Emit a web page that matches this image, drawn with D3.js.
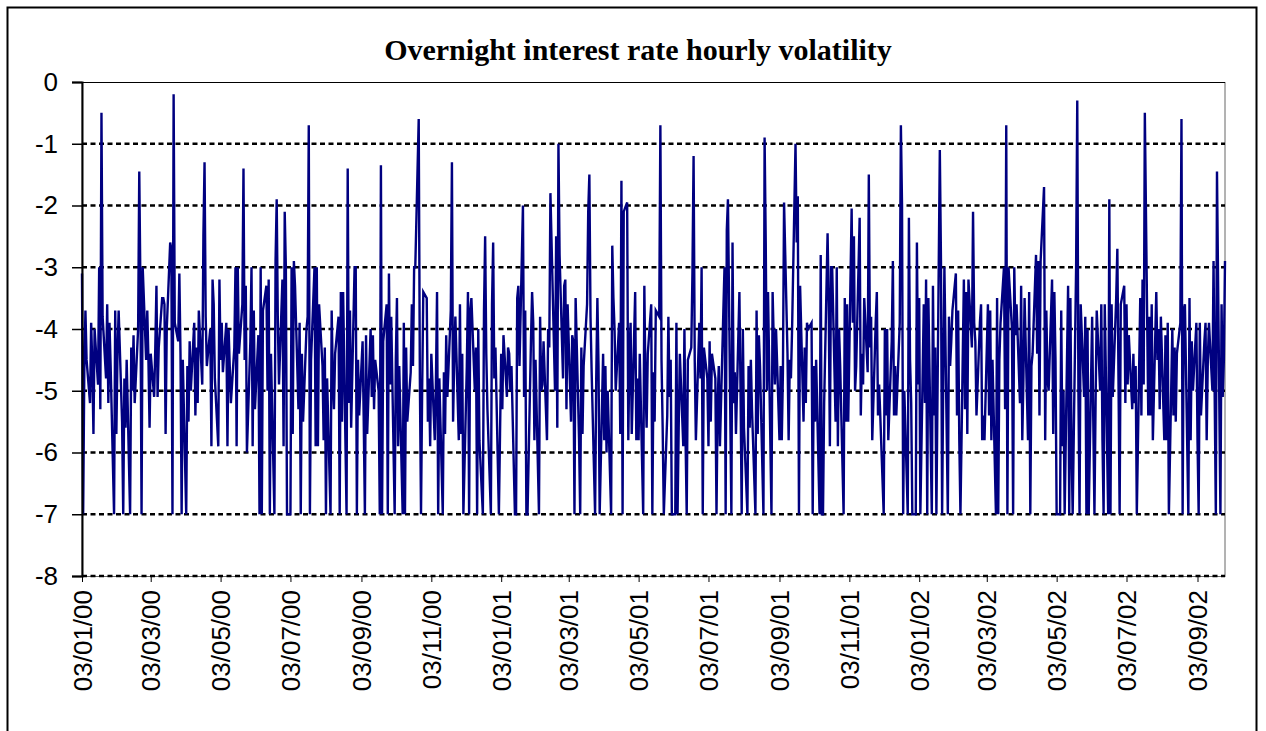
<!DOCTYPE html>
<html>
<head>
<meta charset="utf-8">
<script src="https://cdn.jsdelivr.net/npm/d3@7"></script>
<style>
  body { margin: 0; background: #fff; }
  svg { display: block; }
</style>
</head>
<body>
<svg id="chart" width="1266" height="731"></svg>
<script>
// daily log volatility, one array per 13-week block starting 03/01/00
const vol2000q1 = [-3.1,-7,-4.7,-3.7,-4.5,-5.2,-3.9,-4.6,-5.7,-4.0,-4.9,-3.0,-5.3,-0.5,-3.8,-4.8,-3.6,-5.2,-3.9,-4.6,-7,-3.7,-5.7,-4.4,-3.7,-5.5,-7,-4.8,-5.6,-4.5,-7,-4.3,-5.0,-4.1,-5.2,-4.0,-1.45,-3.3,-7,-3.0,-4.5,-3.7,-4.5,-5.6,-4.4,-5.1,-4.3,-3.3,-5.1,-4.3,-3.5,-3.5,-3.6,-5.7,-4.0,-2.6,-2.7,-7,-0.2,-3.9,-4.2,-3.1,-4.4,-7,-4.5];
const vol2000q2 = [-7,-4.6,-5.5,-4.2,-5.0,-3.9,-5.4,-4.3,-5.2,-3.7,-4.9,-2.5,-1.3,-3.8,-4.6,-4.0,-5.9,-3.2,-3.6,-4.8,-5.9,-3.2,-4.5,-3.9,-4.7,-3.9,-5.9,-4.0,-4.6,-5.2,-4.3,-3.0,-5.9,-3.0,-4.4,-3.6,-1.4,-4.5,-3.3,-6.0,-4.2,-3.0,-5.9,-3.7,-5.3,-4.1,-7,-3.0,-7,-3.7,-3.3,-5.0,-3.2,-7,-4.4,-7,-2.9,-1.9,-3.9,-4.9,-3.2,-5.9,-2.1,-3.0,-7];
const vol2000q3 = [-7,-3.0,-5.7,-2.9,-3.3,-5.3,-3.9,-7,-4.4,-5.5,-4.0,-3.8,-0.7,-7,-4.5,-3.0,-5.9,-3.0,-5.9,-3.6,-4.6,-5.8,-4.3,-7,-4.8,-7,-3.7,-4.8,-5.3,-4.4,-3.8,-7,-3.4,-5.5,-3.4,-7,-1.4,-5.2,-3.7,-5.6,-3.0,-3.0,-7,-4.5,-5.4,-4.2,-5.5,-7,-4.1,-5.7,-4.0,-5.1,-4.1,-5.3,-4.5,-5.0,-7,-1.35,-7,-4.2,-3.6,-7,-3.1,-4.9,-3.8];
const vol2000q4 = [-7,-4.5,-3.5,-5.9,-4.6,-7,-3.9,-7,-4.3,-5.5,-4.7,-3.6,-4.6,-3.0,-3.0,-0.6,-4.8,-7,-5.0,-3.4,-3.5,-5.5,-4.8,-5.9,-4.4,-5.8,-4.9,-3.4,-7,-4.8,-7,-4.7,-5.7,-4.1,-5.1,-3.7,-1.3,-5.5,-4.5,-3.8,-5.8,-3.6,-5.7,-4.4,-7,-4.6,-3.4,-7,-3.7,-3.5,-5.0,-4.3,-7,-4.0,-5.8,-7,-3.7,-2.5,-4.4,-5.3,-7,-3.6,-2.6,-4.8,-4.3];
const vol2001q1 = [-7,-5.7,-4.4,-5.3,-4.1,-5.1,-4.3,-4.4,-5.0,-4.6,-7,-7,-3.5,-3.3,-4.6,-2.0,-5.1,-3.7,-7,-7,-4.2,-3.4,-3.9,-5.8,-4.5,-7,-3.8,-5.0,-4.9,-4.2,-5.8,-4.0,-4.3,-1.8,-2.6,-5.0,-2.5,-5.6,-1.0,-2.8,-4.8,-3.3,-3.2,-5.3,-3.6,-5.5,-4.1,-4.2,-7,-3.5,-5.8,-7,-4.3,-5.7,-4.6,-3.6,-2.1,-1.5,-3.8,-4.7,-7,-4.8,-3.5,-4.6,-7];
const vol2001q2 = [-4.4,-5.8,-4.6,-6.0,-5.0,-7,-2.65,-3.5,-4.0,-5.0,-3.9,-5.7,-1.6,-7,-2.1,-1.95,-5.8,-4.4,-3.9,-5.7,-3.4,-5.8,-4.8,-5.8,-4.4,-7,-3.3,-4.9,-5.6,-4.4,-3.6,-7,-4.7,-5.5,-3.7,-3.8,-0.7,-4.5,-5.6,-7,-5.4,-3.8,-5.1,-4.5,-7,-7,-3.9,-7,-5.6,-4.4,-5.9,-4.0,-5.8,-7,-4.5,-4.3,-3.1,-1.2,-4.5,-5.8,-3.9,-4.8,-3.0,-7,-4.3];
const vol2001q3 = [-4.8,-5.9,-4.2,-5.5,-4.4,-4.8,-7,-5.2,-4.6,-5.9,-3.7,-3.0,-7,-2.4,-1.9,-7,-2.6,-5.2,-4.7,-5.7,-3.4,-5.0,-7,-4.0,-5.6,-7,-4.6,-5.6,-4.5,-5.3,-7,-3.7,-5.7,-4.1,-4.6,-7,-0.9,-2.6,-5.0,-3.4,-7,-3.4,-4.2,-4.9,-4.0,-5.8,-4.6,-5.8,-4.7,-1.95,-4.4,-5.8,-4.5,-4.8,-4.0,-1.0,-2.6,-1.85,-7,-3.3,-5.5,-4.3,-5.2,-3.9,-4.0];
const vol2001q4 = [-3.9,-7,-4.6,-5.5,-4.5,-7,-2.8,-7,-7,-5.2,-2.45,-3.6,-5.9,-3.0,-3.0,-5.5,-3.0,-5.9,-4.0,-4.6,-7,-3.5,-5.5,-3.6,-5.5,-2.05,-3.9,-2.5,-5.0,-4.6,-2.2,-5.4,-4.4,-4.9,-3.5,-4.7,-1.5,-4.3,-3.8,-5.8,-3.9,-3.4,-5.4,-4.9,-5.4,-7,-4.0,-5.4,-4.0,-5.8,-4.2,-2.9,-5.4,-4.6,-5.4,-3.9,-0.7,-2.0,-7,-5.0,-7,-2.2,-4.5,-5.2,-7];
const vol2002q1 = [-7,-2.6,-4.9,-3.5,-7,-3.6,-5.2,-3.2,-7,-3.5,-7,-3.3,-5.4,-4.3,-7,-1.1,-2.9,-7,-4.8,-3.0,-7,-3.8,-4.6,-4.2,-3.7,-3.1,-5.4,-3.7,-5.8,-7,-3.2,-5.3,-3.4,-5.7,-3.2,-4.3,-2.1,-3.9,-4.2,-5.4,-3.9,-3.6,-5.8,-5.4,-5.8,-3.6,-5.4,-3.7,-5.8,-4.5,-7,-3.5,-7,-4.5,-3.9,-3.0,-5.3,-0.7,-7,-3.0,-4.0,-7,-3.0,-4.1,-3.6];
const vol2002q2 = [-5.2,-3.3,-5.8,-4.8,-3.5,-5.8,-3.4,-7,-4.6,-4.4,-2.8,-4.4,-2.9,-5.4,-2.9,-1.7,-5.8,-3.7,-4.8,-5.0,-3.2,-5.7,-3.4,-4.5,-7,-7,-3.7,-5.9,-5.0,-7,-3.3,-7,-3.5,-5.9,-7,-3.0,-0.3,-5.0,-7,-3.6,-5.1,-3.8,-7,-4.0,-7,-3.8,-5.5,-7,-5.2,-3.7,-5.0,-3.6,-5.8,-7,-3.6,-7,-1.9,-7,-3.6,-5.1,-3.5,-2.7,-4.8,-7,-3.6];
const vol2002q3 = [-3.3,-5.2,-3.6,-4.9,-4.1,-5.3,-4.4,-5.2,-4.6,-7,-3.5,-5.4,-3.2,-4.9,-0.5,-5.4,-3.8,-5.4,-3.6,-5.8,-3.4,-4.5,-4.0,-5.3,-3.8,-5.8,-4.1,-5.8,-3.9,-7,-4.0,-5.4,-4.3,-5.5,-4.4,-3.9,-0.6,-7,-3.7,-3.6,-7,-3.5,-5.8,-4.2,-5.0,-3.9,-5.8,-7,-3.9,-5.4,-4.2,-3.9,-5.8,-4.5,-3.9,-5.0,-2.9,-5.1,-7,-1.45,-7,-3.6,-5.1,-4.5,-2.9];

const yTicks = [0, -1, -2, -3, -4, -5, -6, -7, -8];
const xTickLabels = ['03/01/00','03/03/00','03/05/00','03/07/00','03/09/00','03/11/00',
  '03/01/01','03/03/01','03/05/01','03/07/01','03/09/01','03/11/01',
  '03/01/02','03/03/02','03/05/02','03/07/02','03/09/02'];
const firstDay = '03/01/00';

const values = [].concat(vol2000q1, vol2000q2, vol2000q3, vol2000q4,
  vol2001q1, vol2001q2, vol2001q3, vol2001q4,
  vol2002q1, vol2002q2, vol2002q3);

const parse = d3.timeParse('%d/%m/%y');

// one value per business day
const data = [];
let day = parse(firstDay);
let i = 0;
while (i < values.length) {
  const wd = day.getDay();
  if (wd !== 0 && wd !== 6) {
    data.push({date: new Date(day), value: values[i]});
    i++;
  }
  day = d3.timeDay.offset(day, 1);
}

const svg = d3.select('#chart');
const plotLeft = 82, plotRight = 1225, plotTop = 82, plotBottom = 576;

// outer chart frame
svg.append('rect')
  .attr('x', 7.5).attr('y', 7.5)
  .attr('width', 1249).attr('height', 740)
  .attr('fill', '#fff')
  .attr('stroke', '#000')
  .attr('stroke-width', 2);

svg.append('text')
  .attr('x', 638).attr('y', 60)
  .attr('text-anchor', 'middle')
  .attr('font-family', '"Liberation Serif", "Times New Roman", serif')
  .attr('font-weight', 'bold')
  .attr('font-size', 30)
  .text('Overnight interest rate hourly volatility');

const x = d3.scaleTime()
  .domain(d3.extent(data, d => d.date))
  .range([plotLeft, plotRight]);

const y = d3.scaleLinear()
  .domain([-8, 0])
  .range([plotBottom, plotTop]);

// plot area border
svg.append('rect')
  .attr('x', plotLeft).attr('y', plotTop + 0.5)
  .attr('width', plotRight - plotLeft).attr('height', plotBottom - plotTop)
  .attr('fill', 'none')
  .attr('stroke', '#666')
  .attr('stroke-width', 1);

svg.append('line')
  .attr('x1', plotLeft).attr('x2', plotRight)
  .attr('y1', plotTop + 0.5).attr('y2', plotTop + 0.5)
  .attr('stroke', '#000');

// dotted gridlines
svg.append('g')
  .selectAll('line')
  .data(yTicks.filter(t => t !== 0))
  .enter()
  .append('line')
  .attr('x1', plotLeft).attr('x2', plotRight)
  .attr('y1', d => y(d)).attr('y2', d => y(d))
  .attr('stroke', '#000')
  .attr('stroke-width', 2.5)
  .attr('stroke-dasharray', '5,3.5');

const line = d3.line()
  .x(d => x(d.date))
  .y(d => y(d.value));

svg.append('path')
  .datum(data)
  .attr('d', line)
  .attr('fill', 'none')
  .attr('stroke', '#000080')
  .attr('stroke-width', 2.4)
  .attr('stroke-linejoin', 'miter');

const yAxis = svg.append('g')
  .attr('transform', `translate(${plotLeft}, 0)`)
  .call(d3.axisLeft(y).tickValues(yTicks).tickFormat(d => String(d)).tickSize(10).tickPadding(14));
yAxis.select('.domain').attr('stroke', '#000').attr('stroke-width', 2);
yAxis.selectAll('.tick line').attr('stroke', '#000').attr('stroke-width', 1.5);
yAxis.selectAll('text')
  .attr('font-family', '"Liberation Sans", Arial, sans-serif')
  .attr('font-size', 26)
  .attr('fill', '#000');

const xAxis = svg.append('g')
  .attr('transform', `translate(0, ${plotBottom})`)
  .call(d3.axisBottom(x)
    .tickValues(xTickLabels.map(parse))
    .tickFormat(d3.timeFormat('%d/%m/%y'))
    .tickSize(6));
xAxis.select('.domain').remove();
xAxis.selectAll('.tick line').attr('stroke', '#000');
xAxis.selectAll('text')
  .attr('font-family', '"Liberation Sans", Arial, sans-serif')
  .attr('font-size', 26)
  .attr('fill', '#000')
  .attr('transform', 'rotate(-90)')
  .attr('text-anchor', 'end')
  .attr('x', -14)
  .attr('y', 0)
  .attr('dy', '0.35em');
</script>
</body>
</html>
